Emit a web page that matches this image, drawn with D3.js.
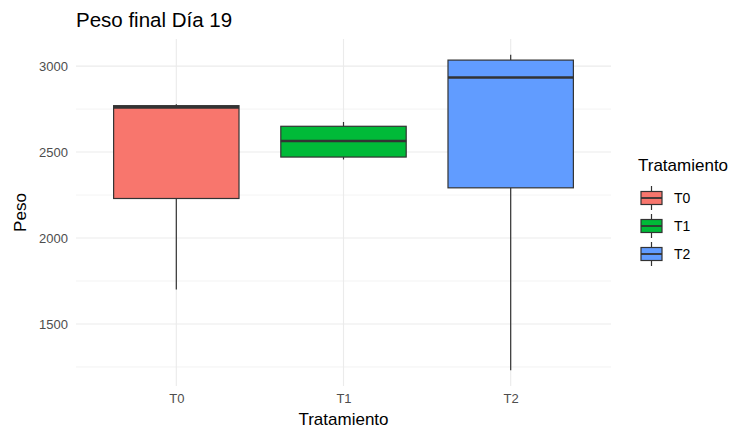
<!DOCTYPE html>
<html><head><meta charset="utf-8">
<script src="https://cdn.jsdelivr.net/npm/d3@7"></script>
<style>body{margin:0;background:#fff}svg{display:block;font-family:"Liberation Sans",Arial,sans-serif}</style>
</head><body><svg id="c" width="732" height="431"></svg>
<script>
const categories = ["T0","T1","T2"];
const mins    = [1700, 2457, 1231];
const q1s     = [2230, 2471, 2292];
const medians = [2760, 2564, 2934];
const q3s     = [2770, 2650, 3035];
const maxs    = [2778, 2675, 3066];
const colors  = ["#F8766D","#00BA38","#619CFF"];
const yTicks  = [1500, 2000, 2500, 3000];
const yMinor  = [1250, 1750, 2250, 2750];

const svg = d3.select("#c");
const L = 76, R = 611, T = 39, B = 386;
svg.append("rect").attr("width",732).attr("height",431).attr("fill","#fff");

const lo = d3.min(mins), hi = d3.max(maxs), pad = (hi-lo)*0.05;
const y = d3.scaleLinear().domain([lo-pad, hi+pad]).range([B, T]);
// ggplot discrete: expand 0.6 each side
const step = (R-L)/(categories.length-1+1.2);
const xs = d3.scalePoint().domain(categories).range([L+0.6*step, R-0.6*step]);
const bw = step*0.75;

const g = svg.append("g");
g.selectAll(".ym").data(yMinor).join("line")
 .attr("x1",L).attr("x2",R).attr("y1",d=>y(d)).attr("y2",d=>y(d))
 .attr("stroke","#ebebeb").attr("stroke-width",0.6);
g.selectAll(".yM").data(yTicks).join("line")
 .attr("x1",L).attr("x2",R).attr("y1",d=>y(d)).attr("y2",d=>y(d))
 .attr("stroke","#ebebeb").attr("stroke-width",1.1);
g.selectAll(".xM").data(categories).join("line")
 .attr("x1",d=>xs(d)).attr("x2",d=>xs(d)).attr("y1",T).attr("y2",B)
 .attr("stroke","#ebebeb").attr("stroke-width",1.1);

const yAxis = d3.axisLeft(y).tickValues(yTicks).tickFormat(d3.format("d")).tickSize(0).tickPadding(8);
const ya = svg.append("g").attr("transform",`translate(${L},0)`).call(yAxis);
ya.select(".domain").remove();
ya.selectAll("text").attr("fill","#4d4d4d").attr("font-size",13).attr("font-family","Liberation Sans, Arial, sans-serif");

const xAxis = d3.axisBottom(xs).tickSize(0).tickPadding(8);
const xa = svg.append("g").attr("transform",`translate(0,${B})`).call(xAxis);
xa.select(".domain").remove();
xa.selectAll("text").attr("fill","#4d4d4d").attr("font-size",13).attr("font-family","Liberation Sans, Arial, sans-serif");

const data = categories.map((c,i)=>({c, min:mins[i], q1:q1s[i], med:medians[i], q3:q3s[i], max:maxs[i], col:colors[i]}));
const bg = svg.append("g");
data.forEach(d=>{
  const cx = xs(d.c);
  bg.append("line").attr("x1",cx).attr("x2",cx).attr("y1",y(d.max)).attr("y2",y(d.q3)).attr("stroke","#333").attr("stroke-width",1.2);
  bg.append("line").attr("x1",cx).attr("x2",cx).attr("y1",y(d.q1)).attr("y2",y(d.min)).attr("stroke","#333").attr("stroke-width",1.2);
  bg.append("rect").attr("x",cx-bw/2).attr("width",bw).attr("y",y(d.q3)).attr("height",y(d.q1)-y(d.q3))
    .attr("fill",d.col).attr("stroke","#333").attr("stroke-width",1.2);
  bg.append("line").attr("x1",cx-bw/2).attr("x2",cx+bw/2).attr("y1",y(d.med)).attr("y2",y(d.med)).attr("stroke","#333").attr("stroke-width",2.6);
});

svg.append("text").attr("x",L).attr("y",26.5).attr("font-size",20.5).attr("fill","#000").text("Peso final Día 19");
svg.append("text").attr("x",(L+R)/2).attr("y",425).attr("text-anchor","middle").attr("font-size",17).attr("fill","#000").text("Tratamiento");
svg.append("text").attr("transform",`translate(26,${(T+B)/2}) rotate(-90)`).attr("text-anchor","middle").attr("font-size",17).attr("fill","#000").text("Peso");

const lg = svg.append("g");
lg.append("text").attr("x",638).attr("y",171).attr("font-size",17).attr("fill","#000").text("Tratamiento");
data.forEach((d,i)=>{
  const cy = 198 + i*28, cx = 651.5;
  lg.append("line").attr("x1",cx).attr("x2",cx).attr("y1",cy-12).attr("y2",cy+12).attr("stroke","#333").attr("stroke-width",1.2);
  lg.append("rect").attr("x",cx-10.5).attr("y",cy-6.5).attr("width",21).attr("height",13).attr("fill",d.col).attr("stroke","#333").attr("stroke-width",1.2);
  lg.append("line").attr("x1",cx-10.5).attr("x2",cx+10.5).attr("y1",cy).attr("y2",cy).attr("stroke","#333").attr("stroke-width",1.8);
  lg.append("text").attr("x",674).attr("y",cy+5).attr("font-size",14).attr("fill","#000").text(d.c);
});
</script></body></html>
